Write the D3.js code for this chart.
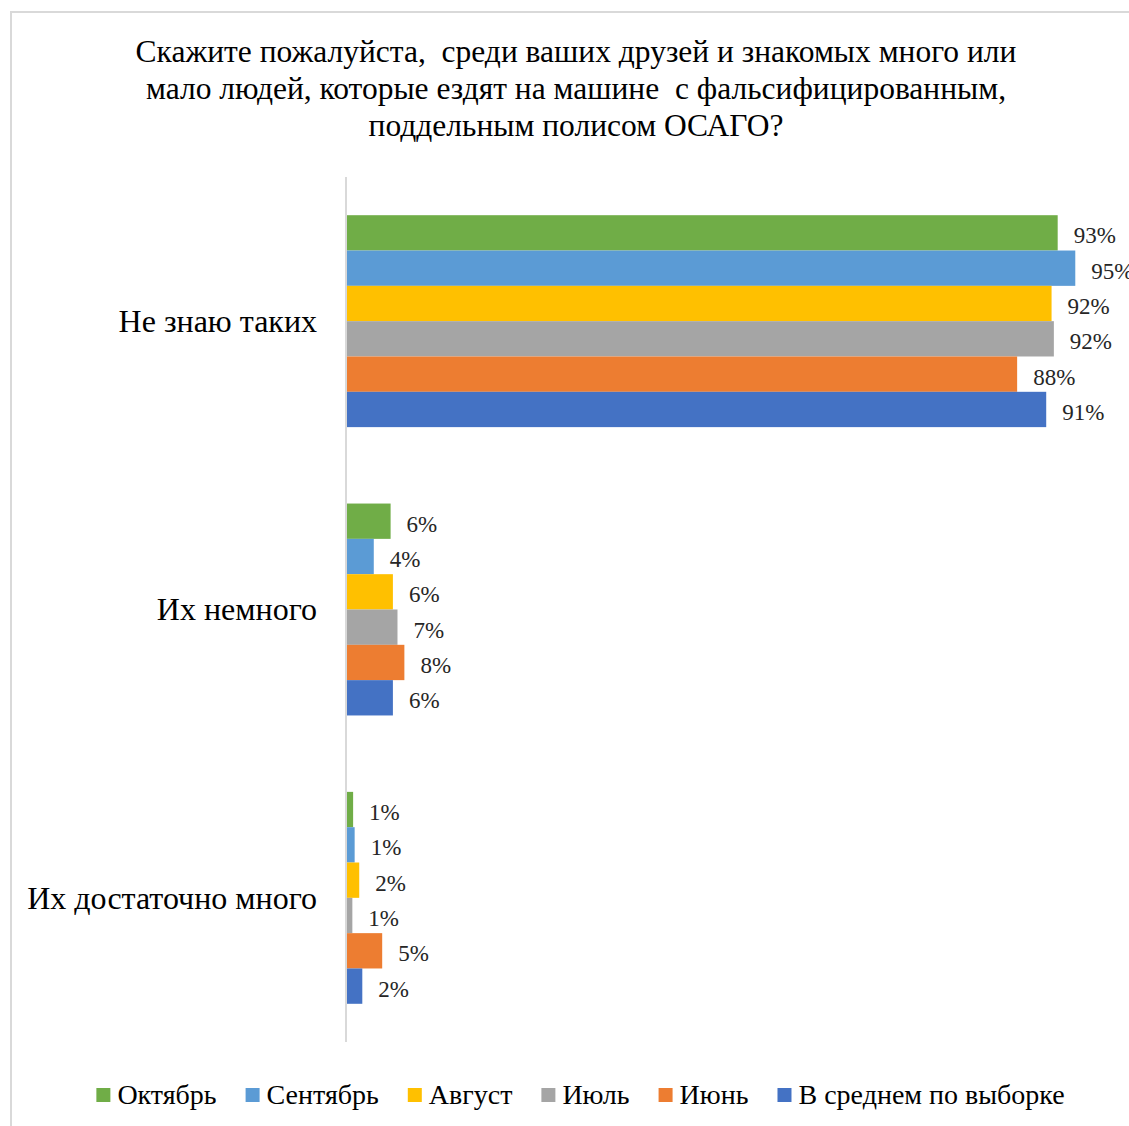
<!DOCTYPE html>
<html>
<head>
<meta charset="utf-8">
<script src="https://cdn.jsdelivr.net/npm/d3@7"></script>
<style>
  body { margin: 0; background: #fff; }
  text { font-family: "Liberation Serif", "Times New Roman", serif; }
</style>
</head>
<body>
<div id="chart"></div>
<script>
// data
var title_lines = [
    "Скажите пожалуйста,  среди ваших друзей и знакомых много или",
    "мало людей, которые ездят на машине  с фальсифицированным,",
    "поддельным полисом ОСАГО?"
]
var categories = ["Не знаю таких", "Их немного", "Их достаточно много"]
var series = ["Октябрь", "Сентябрь", "Август", "Июль", "Июнь", "В среднем по выборке"]
var colors = ["#70ad47", "#5b9bd5", "#ffc000", "#a5a5a5", "#ed7d31", "#4472c4"]
// values per category, in series order (percent)
var v_none = [92.9, 95.2, 92.1, 92.4, 87.6, 91.4]
var v_few = [5.7, 3.5, 6.0, 6.6, 7.5, 6.0]
var v_many = [0.8, 1.0, 1.6, 0.7, 4.6, 2.0]
var values = [v_none, v_few, v_many]

// layout
var total_width = 1129,
    total_height = 1126,
    plot = {left: 347, right: 1112, top: 177, bottom: 1042}

var svg = d3.select("#chart").append("svg")
    .attr("width", total_width)
    .attr("height", total_height)
    .style("display", "block")

// outer frame
svg.append("rect")
    .attr("x", 11).attr("y", 12)
    .attr("width", 1200).attr("height", 1200)
    .attr("fill", "none")
    .attr("stroke", "#d9d9d9")
    .attr("stroke-width", 2)

// title
svg.append("g").selectAll("text")
    .data(title_lines)
    .enter().append("text")
    .attr("x", 576)
    .attr("y", (d, i) => 61.5 + i * 37.3)
    .attr("text-anchor", "middle")
    .style("font-size", "31.5px")
    .style("white-space", "pre")
    .attr("fill", "#000")
    .text(d => d)

// scales
var x = d3.scaleLinear().domain([0, 100]).range([plot.left, plot.right])
var y0 = d3.scaleBand().domain(categories).range([plot.top, plot.bottom])
    .paddingInner(0.265).paddingOuter(0.1325)
var y1 = d3.scaleBand().domain(series).range([0, y0.bandwidth()])
var color = d3.scaleOrdinal().domain(series).range(colors)

var rows = []
categories.forEach(function(c, ci){
    series.forEach(function(s, si){
        rows.push({cat: c, ser: s, value: values[ci][si]})
    })
})

// bars
svg.append("g").selectAll("rect")
    .data(rows)
    .enter().append("rect")
    .attr("x", x(0))
    .attr("y", d => y0(d.cat) + y1(d.ser))
    .attr("width", d => x(d.value) - x(0))
    .attr("height", y1.bandwidth())
    .attr("fill", d => color(d.ser))

// value labels
svg.append("g").selectAll("text")
    .data(rows)
    .enter().append("text")
    .attr("x", d => x(d.value) + 16)
    .attr("y", d => y0(d.cat) + y1(d.ser) + y1.bandwidth() / 2 + 10.5)
    .style("font-size", "23px")
    .attr("fill", "#262626")
    .text(d => Math.round(d.value) + "%")

// category axis
svg.append("line")
    .attr("x1", plot.left - 1).attr("x2", plot.left - 1)
    .attr("y1", plot.top).attr("y2", plot.bottom)
    .attr("stroke", "#d9d9d9")
    .attr("stroke-width", 2)

svg.append("g").selectAll("text")
    .data(categories)
    .enter().append("text")
    .attr("x", 317)
    .attr("y", d => y0(d) + y0.bandwidth() / 2 + 10.7)
    .attr("text-anchor", "end")
    .style("font-size", "32px")
    .attr("fill", "#000")
    .text(d => d)

// legend
var legend = svg.append("g")
var lx = 0
series.forEach(function(s, i){
    var item = legend.append("g").attr("transform", "translate(" + lx + ",0)")
    item.append("rect")
        .attr("x", 0).attr("y", -16)
        .attr("width", 14).attr("height", 14)
        .attr("fill", colors[i])
    var t = item.append("text")
        .attr("x", 21).attr("y", 0)
        .style("font-size", "28px")
        .attr("fill", "#000")
        .text(s)
    lx += 21 + t.node().getComputedTextLength() + 29
})
lx -= 29
legend.attr("transform", "translate(" + (580.5 - lx / 2) + ",1104)")
</script>
</body>
</html>
